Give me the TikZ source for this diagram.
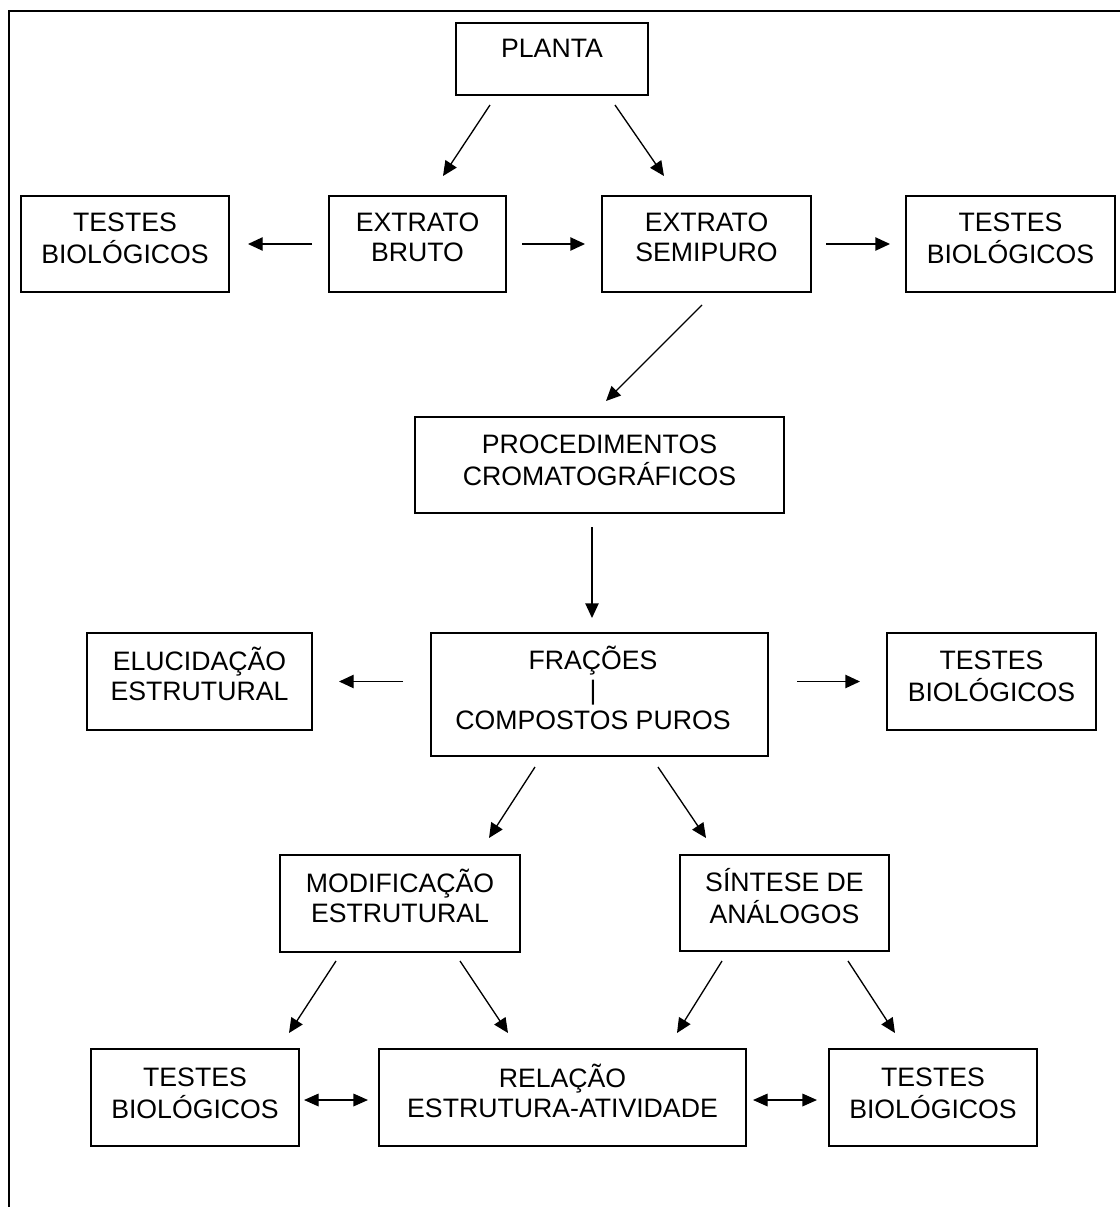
\documentclass[tikz,border=0pt]{standalone}
\usepackage{fontspec}
\setmainfont{Liberation Sans}
\usetikzlibrary{arrows.meta}
\newcommand\mys{\rule[-5.25pt]{0pt}{22.5pt}}
\newcommand\mybox[5]{\node[box, minimum width={(#4-#2)*0.75pt}, minimum height={(#5-#3)*0.75pt}] (#1) at ({(#2+#4)/2},{(#3+#5)/2}) {};}
\newcommand\mytxt[4]{\node[lbl] (#1) at (#2,{#3-13.45}) {#4};}
\tikzset{
  box/.style={draw, line width=1.2pt, inner sep=0pt, outer sep=0pt, rectangle},
  lbl/.style={anchor=north, inner sep=0pt, align=center, font=\fontsize{20}{22.5}\selectfont},
  arr/.style={line width=1pt, -{Triangle[length=11pt,width=10pt]}},
  darr/.style={line width=1pt, {Triangle[length=11pt,width=9.5pt]}-{Triangle[length=11pt,width=9.5pt]}}
}
\begin{document}
\begin{tikzpicture}[x=0.75pt,y=-0.75pt]
\useasboundingbox (0,0) rectangle (1120,1207);
% frame
\draw[line width=1.5pt] (9,1207) -- (9,11) -- (1120,11);
% boxes
\mybox{pl}{456}{23}{648}{95}
\mybox{bruto}{329}{196}{506}{292}
\mybox{semi}{602}{196}{811}{292}
\mybox{tl}{21}{196}{229}{292}
\mybox{tr}{906}{196}{1115}{292}
\mybox{proc}{415}{417}{784}{513}
\mybox{frac}{431}{633}{768}{756}
\mybox{eluc}{87}{633}{312}{730}
\mybox{tm}{887}{633}{1096}{730}
\mybox{modif}{280}{855}{520}{952}
\mybox{sint}{680}{855}{889}{951}
\mybox{bl}{91}{1049}{299}{1146}
\mybox{rel}{379}{1049}{746}{1146}
\mybox{br}{829}{1049}{1037}{1146}
% texts
\mytxt{plt}{552}{48}{\mys PLANTA}
\mytxt{brutot}{417.5}{222}{\mys EXTRATO\\\mys BRUTO}
\mytxt{semit}{706.5}{222}{\mys EXTRATO\\\mys SEMIPURO}
\mytxt{tlt}{125}{222}{\mys TESTES\\\mys BIOLÓGICOS}
\mytxt{trt}{1010.5}{222}{\mys TESTES\\\mys BIOLÓGICOS}
\mytxt{proct}{599.5}{444}{\mys PROCEDIMENTOS\\\mys CROMATOGRÁFICOS}
\mytxt{fract}{593}{659}{\mys FRAÇÕES\\\mys |\\\mys COMPOSTOS PUROS}
\mytxt{eluct}{199.5}{660}{\mys ELUCIDAÇÃO\\\mys ESTRUTURAL}
\mytxt{tmt}{991.5}{660}{\mys TESTES\\\mys BIOLÓGICOS}
\mytxt{modift}{400}{882}{\mys MODIFICAÇÃO\\\mys ESTRUTURAL}
\mytxt{sintt}{784.5}{882}{\mys SÍNTESE DE\\\mys ANÁLOGOS}
\mytxt{blt}{195}{1077}{\mys TESTES\\\mys BIOLÓGICOS}
\mytxt{relt}{562.5}{1077}{\mys RELAÇÃO\\\mys ESTRUTURA-ATIVIDADE}
\mytxt{brt}{933}{1077}{\mys TESTES\\\mys BIOLÓGICOS}
% arrows
\draw[arr] ([shift={(-62,10)}]pl.south) -- ([shift={(25.5,-20)}]bruto.north);
\draw[arr] ([shift={(63,10)}]pl.south) -- ([shift={(-42.5,-20)}]semi.north);
\draw[arr] ([shift={(-17,0)}]bruto.west) -- ([shift={(19,0)}]tl.east);
\draw[arr] ([shift={(16,0)}]bruto.east) -- ([shift={(-17,0)}]semi.west);
\draw[arr] ([shift={(15,0)}]semi.east) -- ([shift={(-16,0)}]tr.west);
\draw[arr] ([shift={(-4.5,13)}]semi.south) -- ([shift={(6.5,-16)}]proc.north);
\draw[arr] ([shift={(-7.5,14)}]proc.south) -- ([shift={(-7.5,-15)}]frac.north);
\draw[arr] ([shift={(-28,-13)}]frac.west) -- ([shift={(27,0)}]eluc.east);
\draw[arr] ([shift={(29,-13)}]frac.east) -- ([shift={(-27,0)}]tm.west);
\draw[arr] ([shift={(-64.5,11)}]frac.south) -- ([shift={(89,-17)}]modif.north);
\draw[arr] ([shift={(58.5,11)}]frac.south) -- ([shift={(-78.5,-17)}]sint.north);
\draw[arr] ([shift={(-64,9)}]modif.south) -- ([shift={(94,-16)}]bl.north);
\draw[arr] ([shift={(60,9)}]modif.south) -- ([shift={(-54.5,-16)}]rel.north);
\draw[arr] ([shift={(-62.5,10)}]sint.south) -- ([shift={(114.5,-16)}]rel.north);
\draw[arr] ([shift={(63.5,10)}]sint.south) -- ([shift={(-38,-16)}]br.north);
\draw[darr] ([shift={(5,2.5)}]bl.east) -- ([shift={(-11,2.5)}]rel.west);
\draw[darr] ([shift={(7,2.5)}]rel.east) -- ([shift={(-12,2.5)}]br.west);
\end{tikzpicture}
\end{document}
